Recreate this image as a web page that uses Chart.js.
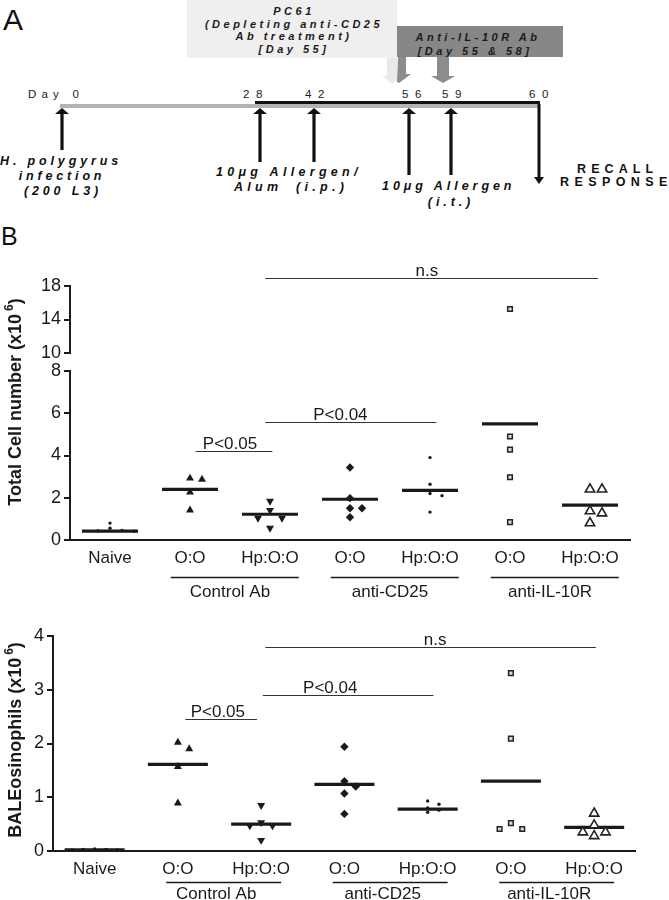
<!DOCTYPE html>
<html><head><meta charset="utf-8">
<script src="https://cdn.jsdelivr.net/npm/chart.js@4.4.1/dist/chart.umd.min.js"></script>
<style>
html,body{margin:0;padding:0;background:#fff;}
#page{position:relative;width:669px;height:900px;overflow:hidden;background:#fff;}
#panelA{position:absolute;left:0;top:0;}
canvas{position:absolute;left:0;}
#cTotal{top:230px;}
#cEos{top:600px;}
.bi{font-family:'Liberation Sans',Arial,sans-serif;font-weight:bold;font-style:italic;font-size:11px;fill:#1a1a1a;}
.bl{font-family:'Liberation Sans',Arial,sans-serif;font-weight:bold;font-style:italic;font-size:12.5px;fill:#111;}
.tl{font-family:'Liberation Sans',Arial,sans-serif;font-size:11.5px;fill:#1a1a1a;}
.bn{font-family:'Liberation Sans',Arial,sans-serif;font-weight:bold;font-size:12.5px;fill:#111;}
</style></head>
<body><div id="page">
<svg id="panelA" width="669" height="250">
  <text x="3" y="30" font-family="'Liberation Sans',Arial,sans-serif" font-size="30" fill="#111">A</text>
  <rect x="187" y="0" width="210" height="58" fill="#efefef"/>
  <path d="M387 58 H397 V76 H402 L392 84 L382 76 H387 Z" fill="#e9e9e9"/>
  <rect x="397" y="26" width="166" height="31" fill="#878787"/>
  <path d="M398 57 H406 V74 H411 L399 83 L397 82 Z" fill="#8c8c8c"/>
  <path d="M437 57 H449 V76 H455 L443 83 L431 76 H437 Z" fill="#8c8c8c"/>
  <text class="bi" x="294" y="15" text-anchor="middle" letter-spacing="3.5">PC61</text>
  <text class="bi" x="294" y="28" text-anchor="middle" letter-spacing="3.5">(Depleting anti-CD25</text>
  <text class="bi" x="294" y="40" text-anchor="middle" letter-spacing="3.5">Ab treatment)</text>
  <text class="bi" x="294" y="53" text-anchor="middle" letter-spacing="3.5">[Day 55]</text>
  <text class="bi" x="478" y="41" text-anchor="middle" letter-spacing="3.5">Anti-IL-10R Ab</text>
  <text class="bi" x="475" y="55" text-anchor="middle" letter-spacing="3.5">[Day 55 &amp; 58]</text>

  <rect x="60" y="104" width="480" height="4" fill="#b3b3b3"/>
  <rect x="255" y="101" width="285" height="3" fill="#111"/>
  <text class="tl" x="28" y="98" letter-spacing="5.2">Day 0</text>
  <text class="tl" x="243" y="98" letter-spacing="6.6">28</text>
  <text class="tl" x="305" y="98" letter-spacing="6.6">42</text>
  <text class="tl" x="402" y="98" letter-spacing="6.6">56</text>
  <text class="tl" x="442" y="98" letter-spacing="6.6">59</text>
  <text class="tl" x="529" y="98" letter-spacing="6.6">60</text>

  <path d="M60.4 150 V114 H55 L62 108 L69 114 H63.6 V150 Z" fill="#111"/>
  <path d="M258.4 162 V114 H253 L260 108 L267 114 H261.6 V162 Z" fill="#111"/>
  <path d="M312.4 162 V114 H307 L314 108 L321 114 H315.6 V162 Z" fill="#111"/>
  <path d="M407.4 175 V114 H402 L409 108 L416 114 H410.6 V175 Z" fill="#111"/>
  <path d="M449.4 175 V114 H444 L451 108 L458 114 H452.6 V175 Z" fill="#111"/>
  <path d="M537.5 104 V177 H534 L539 184 L544 177 H540.5 V104 Z" fill="#111"/>

  <text class="bl" x="61" y="165" text-anchor="middle" letter-spacing="3.85">H. polygyrus</text>
  <text class="bl" x="62" y="180" text-anchor="middle" letter-spacing="3.85">infection</text>
  <text class="bl" x="63" y="195" text-anchor="middle" letter-spacing="3.85">(200 L3)</text>
  <text class="bl" x="216" y="176" letter-spacing="4.3">10μg Allergen/</text>
  <text class="bl" x="234" y="191" letter-spacing="4.3">Alum</text>
  <text class="bl" x="296" y="191" letter-spacing="4.3">(i.p.)</text>
  <text class="bl" x="382" y="190" letter-spacing="3.95">10μg Allergen</text>
  <text class="bl" x="451" y="206" text-anchor="middle" letter-spacing="3.9">(i.t.)</text>
  <text class="bn" x="577" y="173" letter-spacing="5.1">RECALL</text>
  <text class="bn" x="560" y="186" letter-spacing="5.4">RESPONSE</text>

  <text x="1" y="245" font-family="'Liberation Sans',Arial,sans-serif" font-size="25" fill="#111">B</text>
</svg>
<canvas id="cTotal" width="669" height="380"></canvas>
<canvas id="cEos" width="669" height="300"></canvas>
</div>
<script>
// ---------- data ----------
const categories = ['Naive', 'O:O', 'Hp:O:O', 'O:O', 'Hp:O:O', 'O:O', 'Hp:O:O'];
const groupLabels = ['Control Ab', 'anti-CD25', 'anti-IL-10R'];
const groupSpans = [[1, 2], [3, 4], [5, 6]];
const sigLabels = ['P<0.05', 'P<0.04', 'n.s'];
const sigPairs = [[1, 2], [2, 4], [2, 6]];

// Total cell number (x10^6)
const totalNaive = [0.8, 0.56, 0.45, 0.43, 0.42];
const totalCtrlOO = [2.92, 2.87, 2.26, 1.41];
const totalCtrlHp = [1.84, 1.41, 1.04, 1.04, 0.56];
const totalCd25OO = [3.43, 1.98, 1.5, 1.5, 1.08];
const totalCd25Hp = [3.9, 2.64, 2.2, 2.1, 1.32];
const totalIl10OO = [15.25, 4.9, 4.28, 2.97, 0.85];
const totalIl10Hp = [2.4, 2.4, 1.37, 1.27, 0.8];
const totalMeans = [0.42, 2.4, 1.22, 1.93, 2.35, 5.5, 1.65];
const totalSigY = [4.19, 5.6, 18.96];
const totalTicksLow = [0, 2, 4, 6, 8];
const totalTicksHigh = [10, 14, 18];

// BAL eosinophils (x10^6)
const eosNaive = [0.04, 0.03, 0.03, 0.02, 0.02];
const eosCtrlOO = [2.02, 1.9, 1.57, 0.89];
const eosCtrlHp = [0.85, 0.53, 0.47, 0.47, 0.2];
const eosCd25OO = [1.94, 1.3, 1.2, 1.07, 0.69];
const eosCd25Hp = [0.93, 0.87, 0.8, 0.76, 0.72];
const eosIl10OO = [3.31, 2.09, 0.52, 0.41, 0.41];
const eosIl10Hp = [0.7, 0.48, 0.35, 0.35, 0.28];
const eosMeans = [0.02, 1.61, 0.5, 1.24, 0.78, 1.3, 0.44];
const eosSigY = [2.46, 2.91, 3.8];
const eosTicks = [0, 1, 2, 3, 4];

// ---------- styling ----------
const FONT = "'Liberation Sans', Arial, Helvetica, sans-serif";
const INK = '#1a1a1a';
Chart.defaults.font.family = FONT;

const markerStyles = [
  {style: 'circle', radius: 1.7, bg: INK, border: INK, bw: 0},
  {style: 'triangle', radius: 4.6, bg: INK, border: INK, bw: 0},
  {style: 'triangle', radius: 4.6, rotation: 180, bg: INK, border: INK, bw: 0},
  {style: 'rectRot', radius: 4.2, bg: INK, border: INK, bw: 0},
  {style: 'circle', radius: 1.7, bg: INK, border: INK, bw: 0},
  {style: 'rect', radius: 3.3, bg: '#d8d8d8', border: '#222', bw: 1.5},
  {style: 'triangle', radius: 5.4, bg: '#ffffff', border: '#222', bw: 1.6}
];

// simple beeswarm: spread points of similar value sideways
function swarmOffsets(values, thr, step) {
  const order = values.map((v, i) => i).sort((a, b) => values[b] - values[a]);
  const placed = [];
  const off = new Array(values.length).fill(0);
  const cands = [0, 1, -1, 2, -2, 3, -3];
  for (const i of order) {
    for (const c of cands) {
      if (!placed.some(p => p.c === c && Math.abs(p.v - values[i]) < thr)) {
        off[i] = c * step; placed.push({c, v: values[i]}); break;
      }
    }
  }
  return off;
}

function buildDatasets(groups, means, axisFor, pxPerUnit, step, lineHalf, meanAxis) {
  const ds = [];
  groups.forEach((vals, i) => {
    const st = markerStyles[i];
    const byAxis = {};
    vals.forEach(v => { const a = axisFor(v); (byAxis[a] = byAxis[a] || []).push(v); });
    Object.keys(byAxis).forEach(a => {
      const vs = byAxis[a];
      const offs = swarmOffsets(vs, (st.radius * 1.9) / pxPerUnit[a], step);
      ds.push({
        type: 'scatter', yAxisID: a, order: 1, clip: false,
        data: vs.map((v, k) => ({x: i + offs[k], y: v})),
        pointStyle: st.style, pointRadius: st.radius, pointHoverRadius: st.radius,
        pointRotation: st.rotation || 0,
        pointBackgroundColor: st.bg, pointBorderColor: st.border, pointBorderWidth: st.bw
      });
    });
  });
  ds.push({
    type: 'scatter', yAxisID: meanAxis, order: 2, clip: false,
    data: means.map((m, i) => ({x: i, y: m})),
    pointStyle: 'line', pointRadius: lineHalf, pointHoverRadius: lineHalf,
    pointBorderWidth: 3.2, pointBorderColor: INK, pointBackgroundColor: INK
  });
  return ds;
}

function xAxis(height) {
  return {
    type: 'linear', position: 'bottom', min: -0.5, max: 6.5, offset: false,
    border: {display: true, color: INK, width: 2},
    grid: {display: false, drawTicks: false},
    ticks: {font: {family: FONT, size: 17}, color: INK, padding: 8, autoSkip: false,
            maxRotation: 0, minRotation: 0, callback: v => (categories[v] !== undefined ? categories[v] : '')},
    afterBuildTicks: s => { s.ticks = categories.map((c, i) => ({value: i})); },
    afterFit: s => { s.height = height; }
  };
}

function yAxis(min, max, ticks, width, stack, weight) {
  const ax = {
    type: 'linear', position: 'left', min, max, offset: false,
    border: {display: true, color: INK, width: 2},
    grid: {display: true, drawOnChartArea: false, drawTicks: true, tickLength: 6, color: INK, lineWidth: 2},
    ticks: {font: {family: FONT, size: 18}, color: INK, padding: 3, autoSkip: false},
    afterBuildTicks: s => { s.ticks = ticks.map(v => ({value: v})); },
    afterFit: s => { s.width = width; }
  };
  if (stack) { ax.stack = stack; ax.stackWeight = weight; }
  return ax;
}

function drawYTitle(ctx, main, sup, cx, cy) {
  ctx.save();
  ctx.translate(cx, cy);
  ctx.rotate(-Math.PI / 2);
  const mainFont = 'bold 18px ' + FONT, supFont = 'bold 12px ' + FONT;
  ctx.font = mainFont;
  const w1 = ctx.measureText(main).width, w3 = ctx.measureText(')').width;
  ctx.font = supFont;
  const w2 = ctx.measureText(sup).width;
  const gap = 3;
  let x = -(w1 + gap + w2 + w3) / 2;
  ctx.textAlign = 'left'; ctx.textBaseline = 'alphabetic'; ctx.fillStyle = INK;
  ctx.font = mainFont; ctx.fillText(main, x, 6); x += w1 + gap;
  ctx.font = supFont; ctx.fillText(sup, x, -2); x += w2;
  ctx.font = mainFont; ctx.fillText(')', x, 6);
  ctx.restore();
}

function annotPlugin(spec) {
  return {
    id: 'annot_' + spec.id,
    afterDraw(chart) {
      const ctx = chart.ctx, xs = chart.scales.x, area = chart.chartArea;
      ctx.save();
      ctx.fillStyle = INK; ctx.strokeStyle = INK;
      ctx.font = '17px ' + FONT; ctx.textAlign = 'center';
      const yb = Math.round(area.bottom + spec.bracketDy) + 0.5;
      groupSpans.forEach(([a, b], g) => {
        const x1 = xs.getPixelForValue(a + spec.bracketPad[0]);
        const x2 = xs.getPixelForValue(b + spec.bracketPad[1]);
        ctx.lineWidth = 1.3; ctx.strokeStyle = INK;
        ctx.beginPath(); ctx.moveTo(x1, yb); ctx.lineTo(x2, yb); ctx.stroke();
        ctx.textBaseline = 'middle';
        ctx.fillText(groupLabels[g], xs.getPixelForValue((a + b) / 2 + spec.labelShift), yb + spec.groupLabelDy);
      });
      sigLabels.forEach((lab, k) => {
        const ys = chart.scales[spec.sigAxis[k]];
        const y = Math.round(ys.getPixelForValue(spec.sigY[k])) + 0.5;
        const x1 = xs.getPixelForValue(sigPairs[k][0] + spec.sigPad[k][0]);
        const x2 = xs.getPixelForValue(sigPairs[k][1] + spec.sigPad[k][1]);
        ctx.lineWidth = 1; ctx.strokeStyle = '#333';
        ctx.beginPath(); ctx.moveTo(x1, y); ctx.lineTo(x2, y); ctx.stroke();
        ctx.textBaseline = 'alphabetic';
        ctx.fillText(lab, xs.getPixelForValue(spec.sigTextAt[k]), y - 2.5);
      });
      drawYTitle(ctx, spec.title, '6', spec.titleX, spec.titleY);
      ctx.restore();
    }
  };
}

const baseOptions = {
  responsive: false, animation: false, events: [],
  plugins: {legend: {display: false}, tooltip: {enabled: false}}
};

// ---------- top chart: total cell number (broken axis) ----------
const TOP = {hi: 67, gap: 18, lo: 169, axisW: 70, xH: 70};
const totalGroups = [totalNaive, totalCtrlOO, totalCtrlHp, totalCd25OO, totalCd25Hp, totalIl10OO, totalIl10Hp];
new Chart(document.getElementById('cTotal'), {
  type: 'scatter',
  data: {datasets: buildDatasets(totalGroups, totalMeans, v => (v > 9 ? 'yHigh' : 'yLow'),
    {yLow: TOP.lo / 8, yHigh: TOP.hi / 8}, 0.15, 28, 'yLow')},
  options: Object.assign({}, baseOptions, {
    layout: {padding: {top: 56, right: 39, left: 0, bottom: 0}},
    scales: {
      x: xAxis(TOP.xH),
      yLow: yAxis(0, 8, totalTicksLow, TOP.axisW, 'tot', TOP.lo),
      yGap: {type: 'linear', position: 'left', min: 8, max: 10, stack: 'tot', stackWeight: TOP.gap,
             border: {display: false}, grid: {display: false, drawTicks: false}, ticks: {display: false},
             afterFit: s => { s.width = TOP.axisW; }},
      yHigh: yAxis(10, 18, totalTicksHigh, TOP.axisW, 'tot', TOP.hi)
    }
  }),
  plugins: [annotPlugin({
    id: 'tot', bracketDy: 37, bracketPad: [-0.24, 0.36], groupLabelDy: 15, labelShift: 0,
    sigAxis: ['yLow', 'yLow', 'yHigh'], sigY: totalSigY,
    sigPad: [[0.07, 0.03], [-0.06, 0.08], [-0.06, 0.1]], sigTextAt: [1.5, 2.88, 3.96],
    title: 'Total Cell number (x10', titleX: 15, titleY: 172
  })]
});

// ---------- bottom chart: BAL eosinophils ----------
const BOT = {h: 215, axisW: 53, xH: 49};
const eosGroups = [eosNaive, eosCtrlOO, eosCtrlHp, eosCd25OO, eosCd25Hp, eosIl10OO, eosIl10Hp];
new Chart(document.getElementById('cEos'), {
  type: 'scatter',
  data: {datasets: buildDatasets(eosGroups, eosMeans, v => 'y', {y: BOT.h / 4}, 0.136, 30, 'y')},
  options: Object.assign({}, baseOptions, {
    layout: {padding: {top: 36, right: 0, left: 0, bottom: 0}},
    scales: {
      x: xAxis(BOT.xH),
      y: yAxis(0, 4, eosTicks, BOT.axisW)
    }
  }),
  plugins: [annotPlugin({
    id: 'eos', bracketDy: 31, bracketPad: [-0.14, 0.24], groupLabelDy: 12, labelShift: -0.04,
    sigAxis: ['y', 'y', 'y'], sigY: eosSigY,
    sigPad: [[0.09, -0.05], [0.02, 0.07], [0.05, 0.02]], sigTextAt: [1.48, 2.83, 4.09],
    title: 'BALEosinophils (x10', titleX: 15, titleY: 140
  })]
});
</script>
</body></html>
